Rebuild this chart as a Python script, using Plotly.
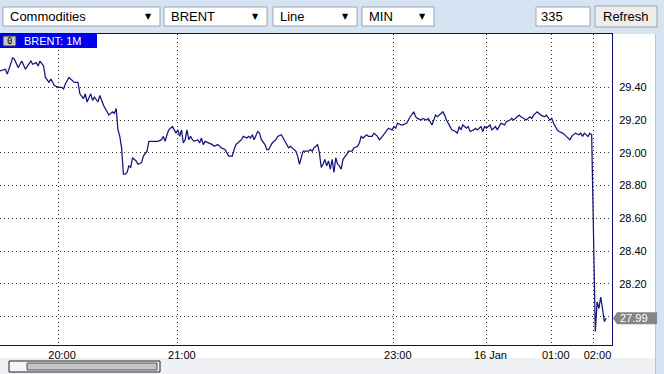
import plotly.graph_objects as go

# ---------------- data ----------------
bars = [0, 3, 4, 7, 8, 10, 12, 14, 17, 18, 20, 21, 22, 24, 25, 27, 28, 30, 32, 34,
        35, 36, 38, 41, 43, 44, 46, 47, 48, 50, 51, 52, 54, 55, 57, 58, 60, 62, 63, 64,
        65, 66, 67, 68, 69, 70, 71, 72, 73, 75, 76, 78, 79, 81, 82, 87, 89, 90, 91, 92,
        93, 95, 96, 97, 98, 99, 100, 101, 102, 103, 104, 105, 106, 107, 109, 110, 111, 112, 113, 115,
        117, 118, 120, 122, 124, 126, 128, 129, 130, 131, 133, 134, 136, 137, 138, 139, 140, 142, 143, 144,
        146, 147, 148, 150, 152, 153, 155, 156, 158, 159, 160, 162, 163, 164, 165, 166, 167, 170, 171, 172,
        173, 174, 175, 176, 177, 178, 179, 180, 181, 182, 183, 184, 185, 186, 187, 188, 189, 191, 192, 194,
        195, 197, 198, 199, 200, 202, 203, 205, 206, 208, 209, 210, 212, 213, 214, 216, 217, 218, 219, 221,
        222, 224, 225, 226, 228, 229, 230, 232, 233, 235, 236, 238, 239, 240, 241, 243, 244, 245, 246, 248,
        249, 251, 252, 253, 254, 255, 257, 258, 259, 261, 262, 263, 265, 266, 267, 268, 270, 271, 273, 274,
        275, 276, 278, 279, 281, 282, 283, 285, 286, 287, 289, 290, 292, 293, 294, 296, 297, 298, 300, 301,
        303, 304, 305, 307, 308, 310, 312, 314, 315, 317, 319, 320, 321, 322, 324, 325, 326, 327, 328, 329,
        330, 331, 332, 333, 334]

price = [29.50, 29.51, 29.48, 29.58, 29.57, 29.52, 29.56, 29.51, 29.56, 29.54, 29.55, 29.53, 29.56, 29.53, 29.46, 29.43, 29.45, 29.41, 29.40, 29.40,
         29.39, 29.42, 29.46, 29.43, 29.43, 29.36, 29.33, 29.36, 29.31, 29.36, 29.32, 29.34, 29.31, 29.35, 29.29, 29.27, 29.23, 29.25, 29.24, 29.27,
         29.14, 29.10, 29.03, 28.87, 28.87, 28.88, 28.92, 28.91, 28.97, 28.95, 28.93, 28.94, 28.98, 29.01, 29.07, 29.07, 29.08, 29.10, 29.07, 29.11,
         29.14, 29.16, 29.14, 29.12, 29.14, 29.10, 29.14, 29.06, 29.08, 29.14, 29.08, 29.10, 29.08, 29.07, 29.08, 29.06, 29.09, 29.05, 29.07, 29.06,
         29.05, 29.04, 29.05, 29.03, 29.02, 28.98, 28.98, 29.02, 29.05, 29.06, 29.08, 29.10, 29.09, 29.10, 29.09, 29.11, 29.08, 29.13, 29.12, 29.08,
         29.05, 29.02, 29.02, 29.06, 29.08, 29.10, 29.11, 29.09, 29.05, 29.03, 29.04, 29.02, 29.01, 28.98, 28.93, 28.97, 29.01, 29.01, 29.02, 29.01,
         29.03, 29.04, 29.05, 29.00, 28.91, 28.93, 28.96, 28.92, 28.95, 28.90, 28.96, 28.88, 28.97, 28.93, 28.92, 28.90, 28.96, 28.99, 29.01, 29.01,
         29.03, 29.04, 29.06, 29.10, 29.09, 29.11, 29.10, 29.10, 29.12, 29.10, 29.08, 29.09, 29.12, 29.13, 29.15, 29.14, 29.16, 29.15, 29.18, 29.17,
         29.17, 29.18, 29.20, 29.22, 29.25, 29.22, 29.21, 29.20, 29.21, 29.20, 29.21, 29.17, 29.20, 29.23, 29.22, 29.24, 29.25, 29.23, 29.20, 29.16,
         29.14, 29.13, 29.12, 29.16, 29.14, 29.17, 29.15, 29.16, 29.13, 29.14, 29.15, 29.14, 29.16, 29.13, 29.16, 29.15, 29.17, 29.14, 29.16, 29.14,
         29.16, 29.18, 29.17, 29.19, 29.20, 29.21, 29.20, 29.22, 29.23, 29.22, 29.21, 29.20, 29.22, 29.21, 29.23, 29.25, 29.24, 29.23, 29.22, 29.23,
         29.20, 29.21, 29.18, 29.14, 29.13, 29.12, 29.10, 29.08, 29.10, 29.12, 29.11, 29.12, 29.10, 29.12, 29.10, 29.12, 29.11, 28.52, 27.91, 28.09,
         28.05, 28.12, 28.05, 27.97, 27.99]

tick_bars = [32, 98, 217, 268, 304, 327]
tick_labels = ["20:00", "21:00", "23:00", "16 Jan", "01:00", "02:00"]
price_ticks = [28.00, 28.20, 28.40, 28.60, 28.80, 29.00, 29.20, 29.40]
price_tick_labels = ["", "28.20", "28.40", "28.60", "28.80", "29.00", "29.20", "29.40"]
last_price_label = "27.99"
selectors = ["Commodities", "BRENT", "Line", "MIN"]
bar_count_text = "335"
chart_title = "BRENT: 1M"

# ---------------- layout helpers (pixel -> paper) ----------------
W, H = 664, 374
PL, PR, PT, PB = 0, 612, 34, 345


def px(x):
    return (x - PL) / (PR - PL)


def py(y):
    return (PB - y) / (PB - PT)


FONT = "Arial, Liberation Sans, sans-serif"
NAVY = "#0c0c6e"

fig = go.Figure()
fig.add_trace(go.Scatter(
    x=bars, y=price, mode="lines",
    line=dict(color="#14147a", width=1.25),
    hoverinfo="skip", showlegend=False,
))

shapes = []
annotations = []


def rect(x0, y0, x1, y1, fill, line=None, lw=1, layer="above"):
    shapes.append(dict(type="rect", xref="paper", yref="paper",
                       x0=px(x0), x1=px(x1), y0=py(y1), y1=py(y0),
                       fillcolor=fill, layer=layer,
                       line=dict(color=line or fill, width=lw if line else 0)))


def text(x, y, s, size=12, color="#000", anchor="left", family=FONT):
    annotations.append(dict(xref="paper", yref="paper", x=px(x), y=py(y),
                            text=s, showarrow=False, xanchor=anchor, yanchor="middle",
                            font=dict(family=family, size=size, color=color)))


# panel backgrounds
rect(0, 34, 655, 358, "#ffffff", layer="below")
rect(0, 358, 655, 374, "#eef0f3", layer="below")
rect(655, 34, 656, 374, "#b9c7d8", layer="below")

# toolbar selectors
boxes = [(3, 160), (164, 267), (273, 357), (362, 434)]
for (x0, x1), label in zip(boxes, selectors):
    rect(x0, 7, x1, 26, "#ffffff", line="#9aa5b2")
    text(x0 + 5, 16.5, label, size=13)
    text(x1 - 12, 16.5, "▼", size=8, anchor="center", family="DejaVu Sans")
rect(536, 7, 590, 26, "#ffffff", line="#9aa5b2")
text(539, 16.5, bar_count_text, size=13)
rect(595, 6, 657, 27, "#eeeeee", line="#a0a0a0")
text(626, 16.5, "Refresh", size=13, anchor="center")

# title tab
rect(0, 34, 97, 48, "#0000ee")
rect(3, 36, 16, 46, "#c8c8c8", line="#303030")
text(9.5, 41, "0", size=9, anchor="center", family="DejaVu Sans Mono")
text(22, 41.5, chart_title, size=11, color="#ffffff")

# scrollbar
rect(9, 361, 160, 372, "#f6f6f6", line="#202020")
rect(27, 363, 157, 370, "#c4c4c4", line="#505050")

# last price marker
shapes.append(dict(type="path", xref="paper", yref="y",
                   xsizemode="pixel", ysizemode="pixel",
                   xanchor=1, yanchor=price[-1],
                   path="M 1 0 L 5 -6 L 45 -6 L 45 6 L 5 6 Z",
                   fillcolor="#858585", line=dict(width=0), layer="above"))
annotations.append(dict(xref="paper", yref="y", x=1, y=price[-1], xshift=6,
                        text=last_price_label, showarrow=False,
                        xanchor="left", yanchor="middle",
                        font=dict(family=FONT, size=11, color="#ffffff")))

fig.update_layout(
    width=W, height=H,
    margin=dict(l=PL, r=W - PR, t=PT, b=H - PB, pad=0),
    paper_bgcolor="#d6e3f3",
    plot_bgcolor="#ffffff",
    showlegend=False,
    shapes=shapes,
    annotations=annotations,
    xaxis=dict(
        range=[0, 337.2], tickmode="array", tickvals=tick_bars, ticktext=tick_labels,
        showgrid=True, gridcolor="#333333", griddash="1px,3px", gridwidth=1,
        showline=True, mirror=True, linecolor=NAVY, linewidth=1,
        ticks="", zeroline=False, ticklabelshift=4, ticklabelstandoff=0,
        tickfont=dict(family=FONT, size=11, color="#000000"), fixedrange=True,
    ),
    yaxis=dict(
        range=[27.827, 29.725], side="right", tickmode="array",
        tickvals=price_ticks, ticktext=price_tick_labels,
        showgrid=True, gridcolor="#333333", griddash="1px,3px", gridwidth=1,
        showline=True, mirror=True, linecolor=NAVY, linewidth=1,
        ticks="", zeroline=False, ticklabelstandoff=4,
        tickfont=dict(family=FONT, size=11, color="#000000"), fixedrange=True,
    ),
)

fig.write_html("out.html", config={"displayModeBar": False})
